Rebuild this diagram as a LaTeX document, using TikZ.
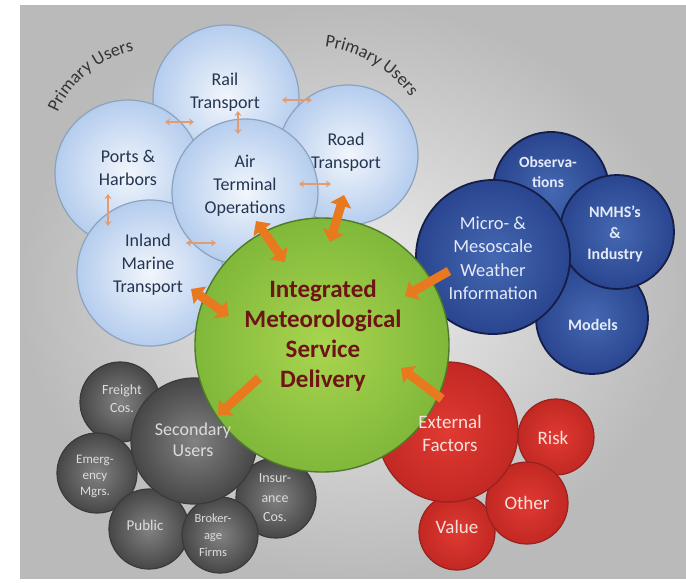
\documentclass[tikz,border=0pt]{standalone}
\usepackage{fontspec}
\setmainfont{Carlito}
\usetikzlibrary{arrows.meta}
\definecolor{bgin}{HTML}{EEEEEE}
\definecolor{bgout}{HTML}{BABABA}
\definecolor{lbin}{HTML}{F2F6FC}
\definecolor{lbout}{HTML}{B5CDEE}
\definecolor{lbedge}{HTML}{8DA2BC}
\definecolor{lbtext}{HTML}{243552}
\definecolor{grin}{HTML}{A9D54F}
\definecolor{grout}{HTML}{80B83A}
\definecolor{gredge}{HTML}{4E7A2A}
\definecolor{grtext}{HTML}{6E1414}
\definecolor{blin}{HTML}{4568B2}
\definecolor{blout}{HTML}{2A458F}
\definecolor{bledge}{HTML}{141E48}
\definecolor{bltext}{HTML}{E4EAF7}
\definecolor{gyin}{HTML}{828282}
\definecolor{gyout}{HTML}{474747}
\definecolor{gyedge}{HTML}{3A3A3A}
\definecolor{gytext}{HTML}{DCDCDC}
\definecolor{rdin}{HTML}{E03A32}
\definecolor{rdout}{HTML}{C22823}
\definecolor{rdedge}{HTML}{962320}
\definecolor{rdtext}{HTML}{F7E1DC}
\definecolor{sarrc}{HTML}{E39C70}
\definecolor{barrc}{HTML}{E8791E}
\definecolor{putext}{HTML}{333333}
\newcommand\myfs[2]{\fontsize{#1}{#2}\selectfont}
\tikzset{
  ball/.style={circle, inner sep=0pt, minimum size=#1},
  lbball/.style={ball=#1, draw=lbedge, line width=1.2pt, inner color=lbin, outer color=lbout},
  blball/.style={ball=#1, draw=bledge, line width=1.8pt, inner color=blin, outer color=blout},
  gyball/.style={ball=#1, draw=gyedge, line width=1.2pt, inner color=gyin, outer color=gyout},
  rdball/.style={ball=#1, draw=rdedge, line width=1.2pt, inner color=rdin, outer color=rdout},
  grball/.style={ball=#1, draw=gredge, line width=1.4pt, inner color=grin, outer color=grout},
  txt/.style={align=center, inner sep=0pt},
  lbt/.style={txt, text=lbtext, font=\myfs{18}{23}},
  grt/.style={txt, text=grtext, font=\myfs{25}{30}\bfseries},
  blt/.style={txt, text=bltext, font=\myfs{18.5}{23.5}},
  blbt/.style={txt, text=bltext, font=\myfs{16}{21}\bfseries},
  gyt/.style={txt, text=gytext, font=\myfs{14}{18}},
  rdt/.style={txt, text=rdtext, font=\myfs{19}{23}},
  pul/.style={inner sep=0pt, anchor=base, text=putext, font=\myfs{18}{20}},
  sarr/.style={line width=2.5pt, draw=sarrc, {Stealth[length=5pt,width=7pt]}-{Stealth[length=5pt,width=7pt]}},
  barr/.style={line width=9pt, draw=barrc, -{Triangle[length=11pt,width=21pt]}},
  bdarr/.style={line width=9pt, draw=barrc, {Triangle[length=11pt,width=21pt]}-{Triangle[length=11pt,width=21pt]}},
}
\begin{document}
\begin{tikzpicture}[x=1pt,y=-1pt]
\useasboundingbox (0,0) rectangle (686,582);
\fill[white] (0,0) rectangle (686,582);
\shade[inner color=bgin, outer color=bgout] (20,5) rectangle (686,578);

% Primary users labels (letters set along arcs)
\foreach \a/\c [count=\i] in {154.1/P,149.9/r,147.1/i,142.1/m,135.9/a,131.9/r,128.0/y,120.4/U,115.3/s,111.0/e,106.9/r,103.3/s}
  \node[pul, rotate=\a-90] (pa\i) at ({155+106*cos(\a)},{155-106*sin(\a)}) {\c};
\foreach \a/\c [count=\i] in {81.0/P,77.4/r,75.0/i,70.7/m,65.4/a,62.0/r,58.6/y,52.1/U,47.8/s,44.1/e,40.6/r,37.5/s}
  \node[pul, rotate=\a-90] (pb\i) at ({310+124*cos(\a)},{170-124*sin(\a)}) {\c};

% light blue group
\node[lbball=146pt] (rail) at (226,98) {};
\node[lbball=140pt] (road) at (348,155) {};
\node[lbball=146pt] (ports) at (128,173) {};
\node[lbball=146pt] (inland) at (150,273) {};
\node[lbball=146pt] (air) at (245,192) {};

% blue group
\node[blball=116pt] (obs) at (551,190) {};
\node[blball=112pt] (models) at (592,318) {};
\node[blball=114pt] (nmhs) at (617,232) {};
\node[blball=154pt] (micro) at (493,257) {};

% gray group
\node[gyball=80pt] (freight) at (120,402) {};
\node[gyball=80pt] (emerg) at (97,473) {};
\node[gyball=80pt] (public) at (149,529) {};
\node[gyball=80pt] (insur) at (276,498) {};
\node[gyball=76pt] (broker) at (220,535) {};
\node[gyball=126pt] (second) at (194,441) {};

% red group
\node[rdball=76pt] (risk) at (556,437) {};
\node[rdball=76pt] (value) at (457,532) {};
\node[rdball=82pt] (other) at (527,503) {};
\node[rdball=140pt] (extern) at (448,432) {};

% green centre
\node[grball=254pt] (imsd) at (322,345) {};

% small arrows
\coordinate (s1a) at (165,122); \coordinate (s1b) at (194,122);
\coordinate (s2a) at (282,100); \coordinate (s2b) at (312,100);
\coordinate (s3a) at (238,111); \coordinate (s3b) at (238,134);
\coordinate (s4a) at (299,184); \coordinate (s4b) at (331,184);
\coordinate (s5a) at (108,194); \coordinate (s5b) at (108,226);
\coordinate (s6a) at (186,243); \coordinate (s6b) at (216,243);
\draw[sarr] (s1a) -- (s1b);
\draw[sarr] (s2a) -- (s2b);
\draw[sarr] (s3a) -- (s3b);
\draw[sarr] (s4a) -- (s4b);
\draw[sarr] (s5a) -- (s5b);
\draw[sarr] (s6a) -- (s6b);

% big arrows
\coordinate (b1a) at (344,195); \coordinate (b1b) at (330,242);
\coordinate (b2a) at (256,221); \coordinate (b2b) at (285,262);
\coordinate (b3a) at (191,289); \coordinate (b3b) at (229,316);
\coordinate (b4a) at (449,271); \coordinate (b4b) at (405,296);
\coordinate (b5a) at (442,399); \coordinate (b5b) at (401,368);
\coordinate (b6a) at (259,378); \coordinate (b6b) at (218,415);
\draw[bdarr] (b1a) -- (b1b);
\draw[bdarr] (b2a) -- (b2b);
\draw[bdarr] (b3a) -- (b3b);
\draw[barr] (b4a) -- (b4b);
\draw[barr] (b5a) -- (b5b);
\draw[barr] (b6a) -- (b6b);

% texts
\node[lbt] (railt) at (225,92) {Rail\\Transport};
\node[lbt] (roadt) at (346,152) {Road\\Transport};
\node[lbt] (portst) at (128,168) {Ports \&\\Harbors};
\node[lbt] (inlandt) at (148,265) {Inland\\Marine\\Transport};
\node[lbt] (airt) at (245,186) {Air\\Terminal\\Operations};
\node[grt] (imsdt) at (323,336) {Integrated\\Meteorological\\Service\\Delivery};
\node[blt] (microt) at (493,258) {Micro- \&\\Mesoscale\\Weather\\Information};
\node[blbt, font=\myfs{15.5}{20}\bfseries] (obst) at (548,172) {Observa-\\tions};
\node[blbt] (nmhst) at (615,234) {NMHS’s\\\&\\Industry};
\node[blbt] (modelst) at (593,325) {Models};
\node[gyt, font=\myfs{18}{21}] (secondt) at (193,440) {Secondary\\Users};
\node[gyt] (freightt) at (122,399) {Freight\\Cos.};
\node[gyt, font=\myfs{13}{16}] (emergt) at (95,476) {Emerg-\\ency\\Mgrs.};
\node[gyt, font=\myfs{15}{18}] (publict) at (145,525) {Public};
\node[gyt, font=\myfs{12.5}{17}] (brokert) at (213,535) {Broker-\\age\\Firms};
\node[gyt, font=\myfs{14}{19.5}] (insurt) at (275,498) {Insur-\\ance\\Cos.};
\node[rdt] (externt) at (450,433) {External\\Factors};
\node[rdt] (riskt) at (553,438) {Risk};
\node[rdt] (othert) at (527,503) {Other};
\node[rdt] (valuet) at (457,527) {Value};
\end{tikzpicture}
\end{document}
